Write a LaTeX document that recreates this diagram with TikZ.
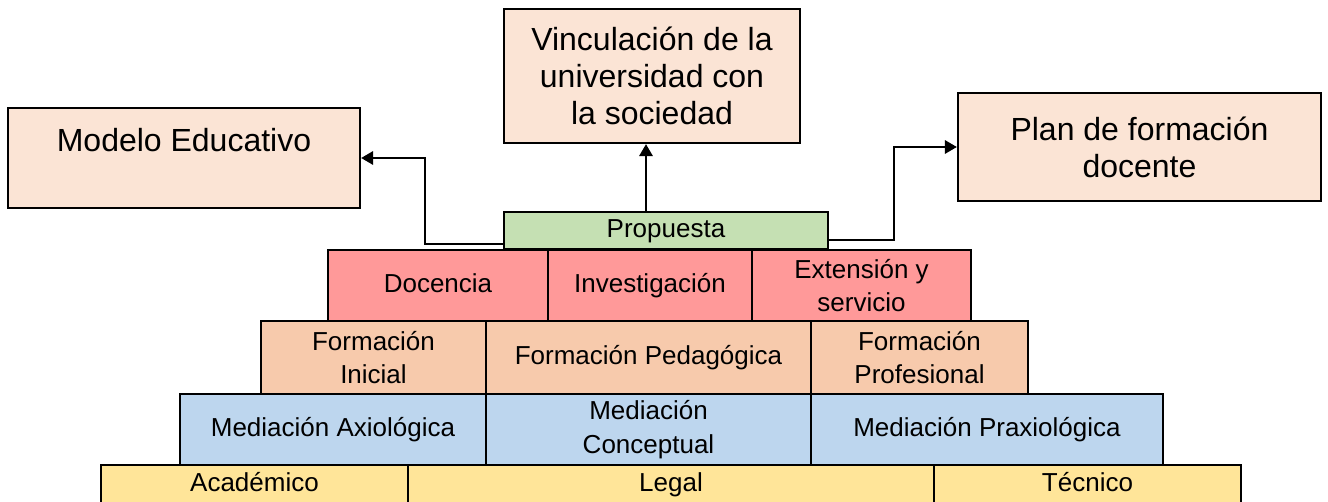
\documentclass[tikz,border=0pt]{standalone}
\usepackage{fontspec}
\setmainfont{Liberation Sans}
\usetikzlibrary{arrows.meta}
\definecolor{peachlt}{HTML}{FBE4D5}
\definecolor{greenp}{HTML}{C5E0B3}
\definecolor{pinkr}{HTML}{FF9999}
\definecolor{peachd}{HTML}{F7CAAC}
\definecolor{bluel}{HTML}{BDD6EE}
\definecolor{yellowl}{HTML}{FFE599}
\begin{document}
\begin{tikzpicture}[x=0.75pt,y=-0.75pt,
  box/.style={draw=black, line width=1.7pt, inner sep=0pt, align=center,
    font=\fontsize{19.5}{25}\selectfont},
  oneline/.style={text height=14pt, text depth=4.2pt},
  topbox/.style={box, fill=peachlt, font=\fontsize{24}{27.75}\selectfont},
  arr/.style={line width=1.7pt, -{Triangle[length=9pt,width=10pt]}}]
\useasboundingbox (0,0) rectangle (1328,502);
\clip (0,0) rectangle (1328,502);
% top boxes
\node[topbox, minimum width=264pt, minimum height=75pt] (me) at (184,158) {Modelo Educativo\\~};
\node[topbox, minimum width=222pt, minimum height=100.5pt] (vu) at (652,76) {Vinculación de la\\universidad con\\la sociedad};
\node[topbox, minimum width=272.25pt, minimum height=81pt] (pf) at (1139.5,147) {Plan de formación\\docente};
% yellow row
\node[box, oneline, fill=yellowl, minimum width=230.25pt, minimum height=29.25pt] (ac) at (254.5,484.5) {Académico};
\node[box, oneline, fill=yellowl, minimum width=394.5pt, minimum height=29.25pt] (le) at (671,484.5) {Legal};
\node[box, oneline, fill=yellowl, minimum width=230.25pt, minimum height=29.25pt] (te) at (1087.5,484.5) {Técnico};
% blue row
\node[box, oneline, fill=bluel, minimum width=229.5pt, minimum height=53.25pt] (ma) at (333,429.5) {Mediación Axiológica};
\node[box, fill=bluel, minimum width=243.75pt, minimum height=53.25pt] (mc) at (648.5,429.5) {Mediación\\Conceptual};
\node[box, oneline, fill=bluel, minimum width=264pt, minimum height=53.25pt] (mp) at (987,429.5) {Mediación Praxiológica};
% peach row
\node[box, fill=peachd, minimum width=168.75pt, minimum height=54.75pt] (fi) at (373.5,357.5) {Formación\\Inicial};
\node[box, oneline, fill=peachd, minimum width=243.75pt, minimum height=54.75pt] (fpe) at (648.5,357.5) {Formación Pedagógica};
\node[box, fill=peachd, minimum width=162.75pt, minimum height=54.75pt] (fpr) at (919.5,357.5) {Formación\\Profesional};
% pink row
\node[box, oneline, fill=pinkr, minimum width=165pt, minimum height=53.25pt] (doc) at (438,285.5) {Docencia};
\node[box, oneline, fill=pinkr, minimum width=153pt, minimum height=53.25pt] (inv) at (650,285.5) {Investigación};
\node[box, fill=pinkr, minimum width=164.25pt, minimum height=53.25pt] (ext) at (861.5,285.5) {Extensión y\\servicio};
% propuesta
\node[box, oneline, fill=greenp, minimum width=243pt, minimum height=27.75pt] (pr) at (666,230.5) {Propuesta};
% arrows
\draw[arr] ([yshift=4.5pt]pr.south west) -- ++(-78,0) |- (me.east);
\draw[arr] ([xshift=-15pt]pr.north) -- ([xshift=-15pt]pr.north |- vu.south);
\draw[arr] ([yshift=7.5pt]pr.south east) -- ++(65,0) |- (pf.west);
\end{tikzpicture}
\end{document}
